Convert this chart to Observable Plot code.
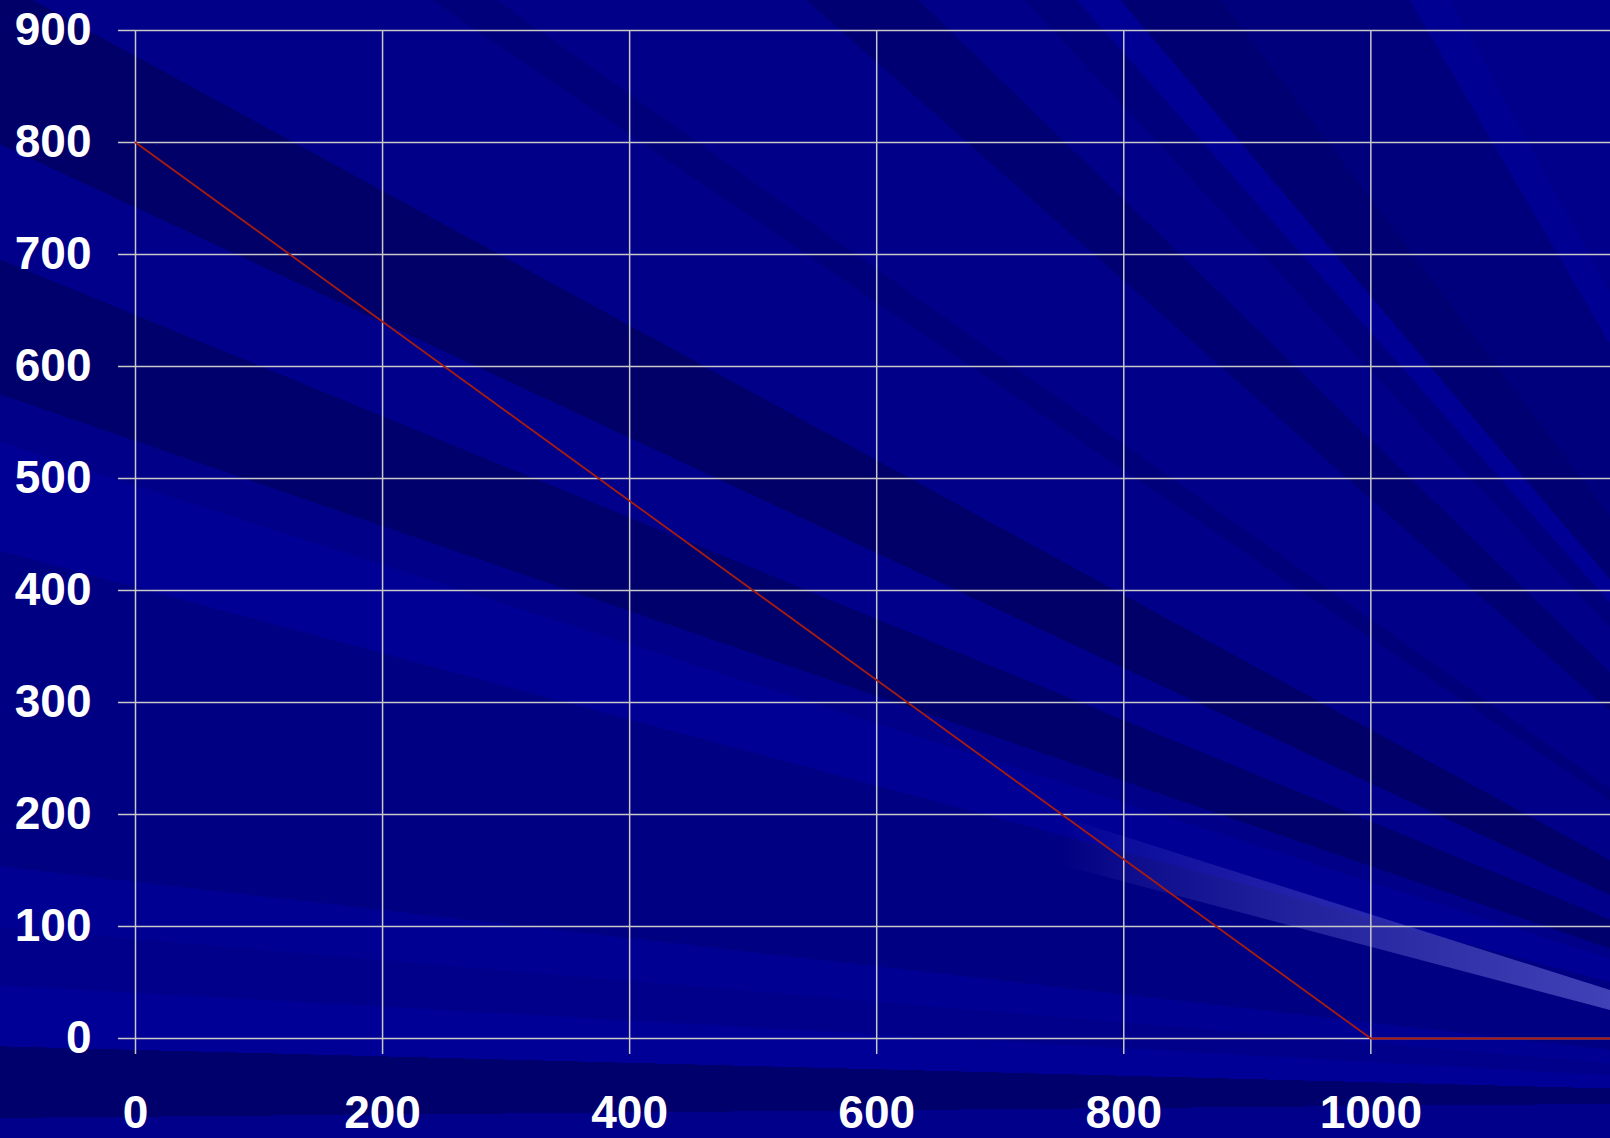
<!DOCTYPE html>
<html>
<head>
<meta charset="utf-8">
<script src="https://cdn.jsdelivr.net/npm/d3@7"></script>
<script src="https://cdn.jsdelivr.net/npm/@observablehq/plot@0.6"></script>
<style>
  html, body { margin: 0; padding: 0; background: #000088; }
  #wrap {
    width: 1610px; height: 1138px; position: relative; overflow: hidden;
    background: conic-gradient(from 269deg at 2050px 1100px,
      #00008a 0deg 0.5deg,
      #00006c 0.5deg 2.5deg,
      #000096 2.5deg 4.2deg,
      #00008a 4.2deg 5.8deg,
      #000092 5.8deg 7.5deg,
      #000082 7.5deg 16deg,
      #000094 16deg 18.8deg,
      #000088 18.8deg 20deg,
      #00006c 20deg 23.3deg,
      #00008a 23.3deg 26deg,
      #000068 26deg 29.6deg,
      #000088 29.6deg 35.2deg,
      #00007a 35.2deg 36.3deg,
      #000088 36.3deg 42.5deg,
      #000072 42.5deg 45.2deg,
      #000088 45.2deg 48deg,
      #00007c 48deg 49.5deg,
      #000094 49.5deg 50.8deg,
      #000072 50.8deg 54deg,
      #00007c 54deg 60.8deg,
      #000092 60.8deg 62.4deg,
      #00008a 62.4deg 360deg);
  }
  #stripe {
    position: absolute; left: 0; top: 0; width: 1610px; height: 1138px;
    background: linear-gradient(90deg, rgba(130,130,235,0) 0%, rgba(130,130,235,0) 66%, rgba(130,130,235,0.1) 70%, rgba(130,130,235,0.25) 80%, rgba(130,130,235,0.5) 100%);
    clip-path: polygon(800px 734px, 1610px 990px, 1610px 1010px, 800px 796px);
  }
  #chart { position: absolute; left: 0; top: 0; }
</style>
</head>
<body>
<div id="wrap"><div id="stripe"></div><div id="chart"></div></div>
<script>
const xValues = [0, 1000, 1200];
const yValues = [800, 0, 0];
const xTicks = [0, 200, 400, 600, 800, 1000];
const yTicks = [0, 100, 200, 300, 400, 500, 600, 700, 800, 900];

const data = xValues.map((x, i) => ({x, y: yValues[i]}));

const gridColor = "#c8c8c8";
const plot = Plot.plot({
  width: 1610,
  height: 1138,
  marginLeft: 135,
  marginRight: 0,
  marginTop: 30,
  marginBottom: 100,
  style: {background: "transparent", overflow: "visible", color: "white",
          fontFamily: "'Liberation Sans', Arial, sans-serif", fontWeight: "bold"},
  x: {domain: [0, 1194]},
  y: {domain: [0, 900]},
  marks: [
    Plot.gridX(xTicks, {stroke: gridColor, strokeOpacity: 1, strokeWidth: 1.5}),
    Plot.gridY(yTicks, {stroke: gridColor, strokeOpacity: 1, strokeWidth: 1.5}),
    Plot.axisX(xTicks, {tickSize: 16, tickPadding: 41, fontSize: 46, stroke: gridColor, strokeWidth: 1.5, fill: "white", label: null, tickFormat: d => String(d)}),
    Plot.axisY(yTicks, {tickSize: 17, tickPadding: 27, fontSize: 46, stroke: gridColor, strokeWidth: 1.5, fill: "white", label: null, tickFormat: d => String(d)}),
    Plot.line(data, {x: "x", y: "y", stroke: "#a81c10", strokeWidth: 1.8})
  ]
});
document.getElementById("chart").appendChild(plot);
</script>
</body>
</html>
